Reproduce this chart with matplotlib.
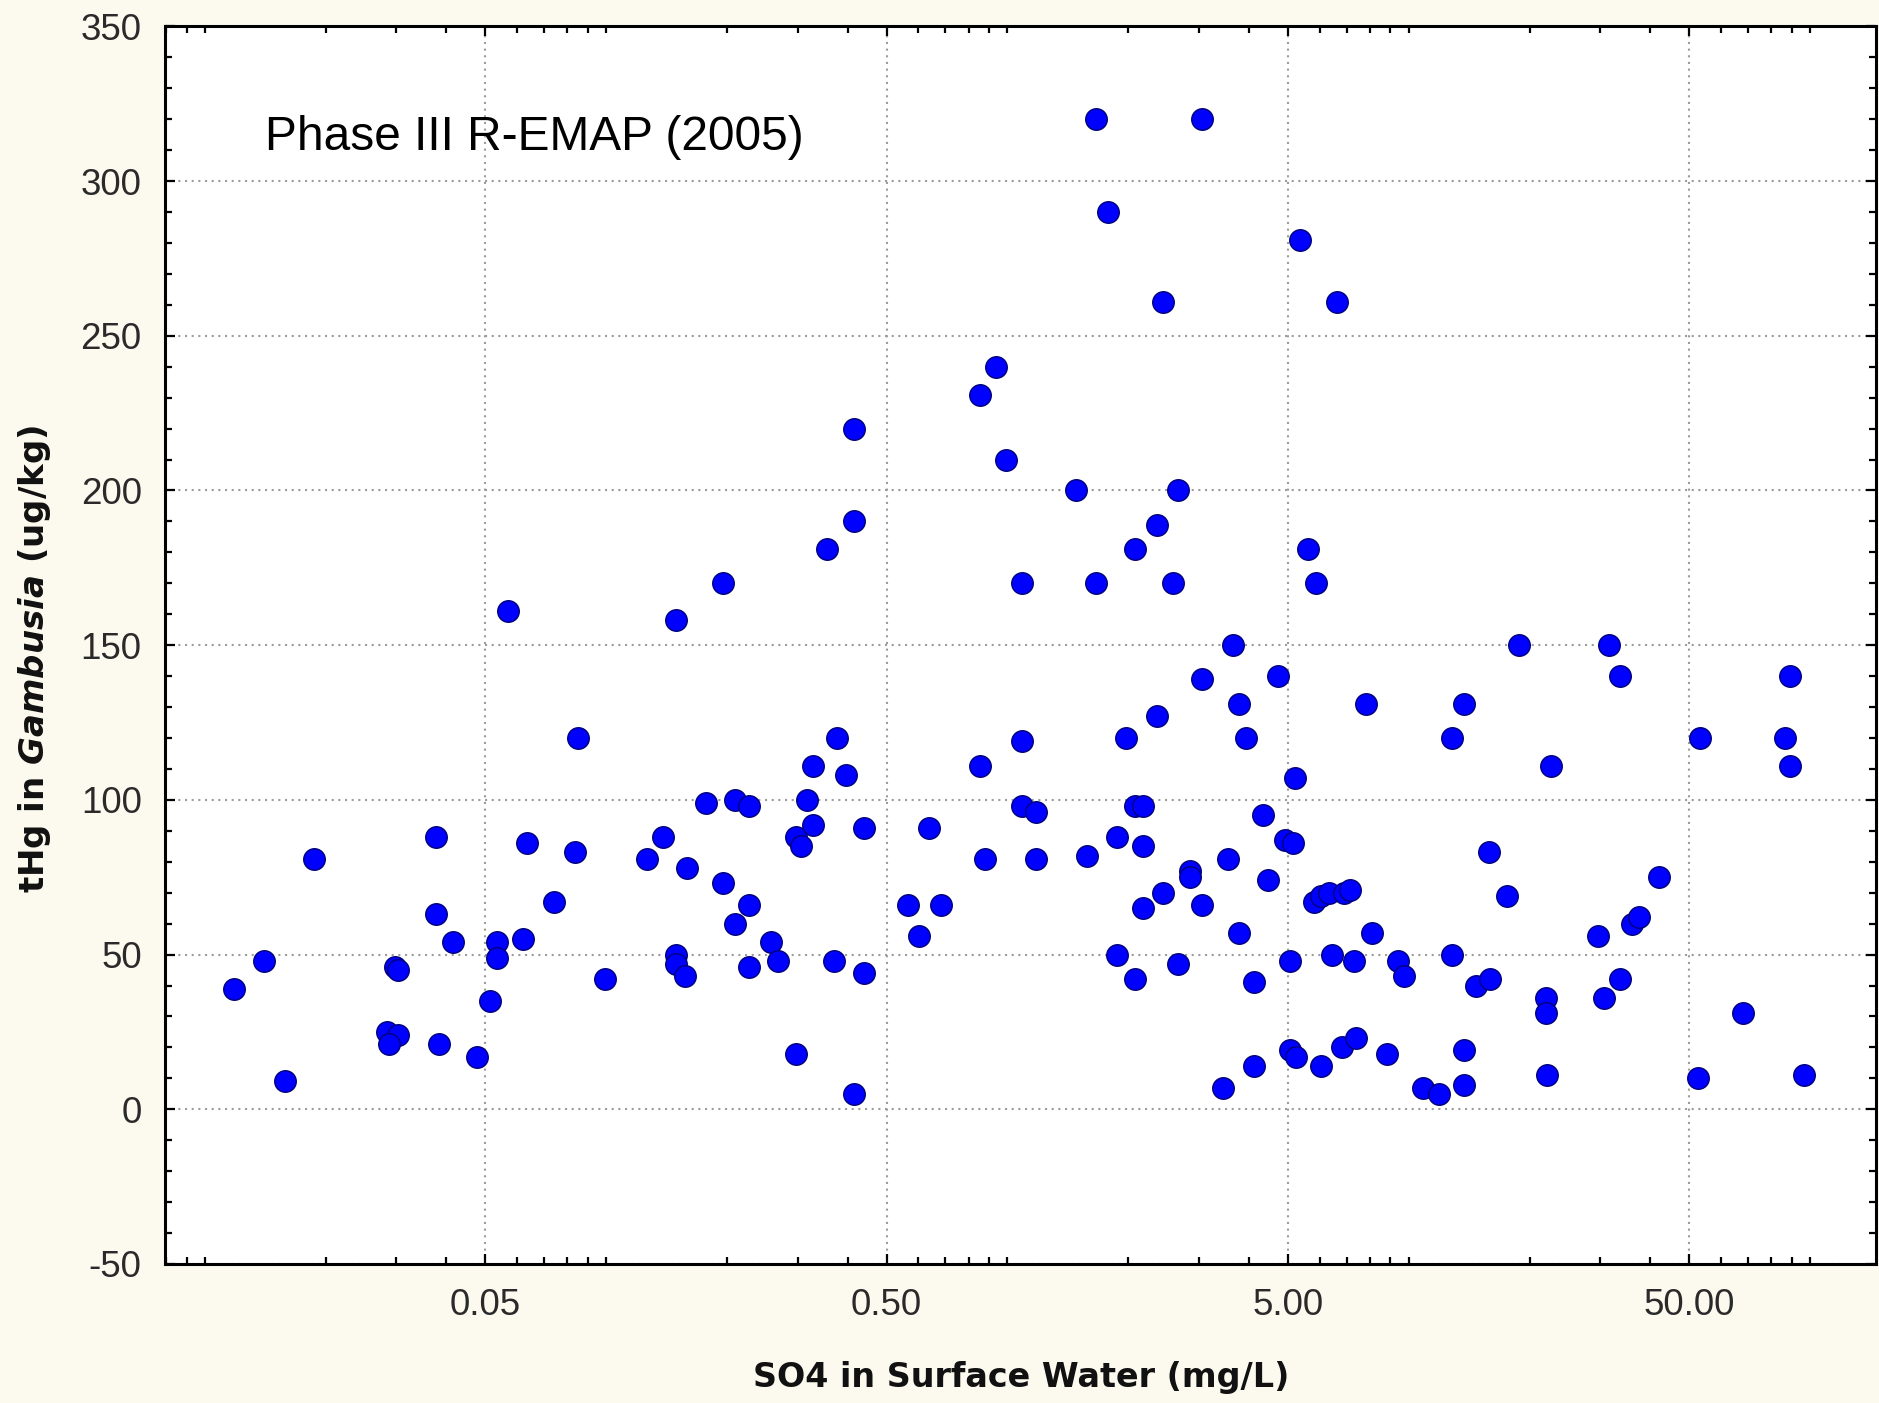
import matplotlib
matplotlib.use("Agg")
import matplotlib.pyplot as plt
from matplotlib.ticker import FixedLocator, FixedFormatter, LogLocator, NullFormatter, MultipleLocator

# SO4 in surface water (mg/L) and tHg in Gambusia (ug/kg)
so4 = [
    0.0118, 0.0140, 0.0158, 0.0187, 0.0285, 0.0303, 0.0287, 0.0297, 0.0303,
    0.0377, 0.0377, 0.0383, 0.0416, 0.0477,
    0.0514, 0.0536, 0.0536, 0.0570, 0.0619, 0.0636, 0.0740, 0.0838, 0.0849,
    0.0994, 0.1265, 0.1383, 0.149, 0.149, 0.149, 0.1576, 0.1587, 0.177,
    0.196, 0.196, 0.209, 0.209, 0.227, 0.227, 0.227, 0.257, 0.268, 0.297,
    0.297, 0.305, 0.316, 0.327, 0.327, 0.355, 0.370, 0.375, 0.396, 0.415,
    0.415, 0.415, 0.439, 0.439,
    0.566, 0.602, 0.636, 0.681, 0.855, 0.855, 0.879, 0.935, 0.994, 1.087,
    1.087, 1.087, 1.181, 1.181, 1.481, 1.576, 1.665, 1.665, 1.783, 1.871,
    1.871, 1.977, 2.075, 2.075, 2.075, 2.177, 2.177, 2.177, 2.363, 2.363,
    2.446, 2.446, 2.585, 2.657, 2.657, 2.846, 2.846, 3.049, 3.049, 3.049,
    3.450, 3.546, 3.645, 3.772, 3.772, 3.931, 4.125, 4.125, 4.328, 4.449,
    4.733,
    4.93, 5.14, 5.07, 5.07, 5.21, 5.25, 5.36, 5.62, 5.82, 5.86, 6.06, 6.06,
    6.32, 6.45, 6.63, 6.81, 6.91, 7.15, 7.30, 7.40, 7.82, 8.09, 8.85, 9.41,
    9.74, 10.87, 11.89, 12.82, 12.82, 13.73, 13.73, 13.73, 14.71, 15.87,
    15.98, 17.60, 18.84, 21.92, 21.92, 22.07, 22.68, 29.66, 30.70, 31.55,
    33.57, 33.57, 35.95, 37.47, 42.11,
    52.5, 53.2, 68.1, 86.7, 89.1, 89.1, 96.7,
]
thg = [
    39, 48, 9, 81, 25, 24, 21, 46, 45,
    88, 63, 21, 54, 17,
    35, 54, 49, 161, 55, 86, 67, 83, 120,
    42, 81, 88, 158, 50, 47, 43, 78, 99,
    170, 73, 60, 100, 98, 66, 46, 54, 48, 18,
    88, 85, 100, 111, 92, 181, 48, 120, 108, 220,
    190, 5, 91, 44,
    66, 56, 91, 66, 231, 111, 81, 240, 210, 170,
    119, 98, 96, 81, 200, 82, 320, 170, 290, 88,
    50, 120, 181, 42, 98, 98, 85, 65, 189, 127,
    261, 70, 170, 200, 47, 77, 75, 320, 139, 66,
    7, 81, 150, 131, 57, 120, 41, 14, 95, 74,
    140,
    87, 86, 48, 19, 107, 17, 281, 181, 67, 170, 14, 69,
    70, 50, 261, 20, 70, 71, 48, 23, 131, 57, 18, 48,
    43, 7, 5, 120, 50, 131, 19, 8, 40, 83,
    42, 69, 150, 36, 31, 11, 111, 56, 36, 150,
    140, 42, 60, 62, 75,
    10, 120, 31, 120, 140, 111, 11,
]

x_major = [0.05, 0.5, 5, 50]
x_labels = ["0.05", "0.50", "5.00", "50.00"]
y_major = [-50, 0, 50, 100, 150, 200, 250, 300, 350]

tick_font = "Liberation Sans"
label_font = "DejaVu Sans"

plt.rcParams["axes.unicode_minus"] = False
plt.rcParams["mathtext.fontset"] = "dejavusans"

fig = plt.figure(figsize=(18.79, 14.03), dpi=100, facecolor="#fcf9ee")
ax = fig.add_axes([0.0880, 0.0991, 0.9104, 0.8821])
ax.set_facecolor("white")

ax.plot(so4, thg, linestyle="none", marker="o", markersize=15.5,
        markerfacecolor="#0000ff", markeredgecolor="#00007a", markeredgewidth=1.0,
        zorder=3)

ax.set_xscale("log")
ax.set_xlim(0.00797, 146)
ax.set_ylim(-50, 350)

ax.xaxis.set_major_locator(FixedLocator(x_major))
ax.xaxis.set_major_formatter(FixedFormatter(x_labels))
ax.xaxis.set_minor_locator(LogLocator(base=10, subs=range(1, 10), numticks=50))
ax.xaxis.set_minor_formatter(NullFormatter())
ax.yaxis.set_major_locator(FixedLocator(y_major))
ax.yaxis.set_minor_locator(MultipleLocator(10))

ax.grid(which="major", color="#9c9c9c", linestyle=(0, (1, 2.2)), linewidth=1.5, zorder=1)

for s in ax.spines.values():
    s.set_linewidth(2.2)
    s.set_color("black")

ax.tick_params(which="both", direction="in", top=True, right=True, color="black")
ax.tick_params(which="major", length=7, width=1.6)
ax.tick_params(which="minor", length=5, width=1.6)
ax.tick_params(axis="y", which="major", pad=17)
ax.tick_params(axis="x", which="major", pad=17)
for lab in ax.get_xticklabels() + ax.get_yticklabels():
    lab.set_fontfamily(tick_font)
    lab.set_fontsize(26.5)
    lab.set_color("#2a2a2a")

ax.text(0.0582, 0.9001, "Phase III R-EMAP (2005)", transform=ax.transAxes,
        fontfamily="Liberation Sans", fontsize=34.5, ha="left", va="baseline",
        color="black")

fig.text(0.5435, 0.018, "SO4 in Surface Water (mg/L)", ha="center", va="center",
         fontfamily=label_font, fontweight="bold", fontsize=24, color="#111111")
fig.text(0.0185, 0.530, r"tHg in $\mathbfit{Gambusia}$ (ug/kg)", ha="center", va="center",
         rotation=90, fontfamily=label_font, fontweight="bold", fontsize=24.5,
         color="#111111")

fig.savefig("out.png", dpi=100, facecolor=fig.get_facecolor())
